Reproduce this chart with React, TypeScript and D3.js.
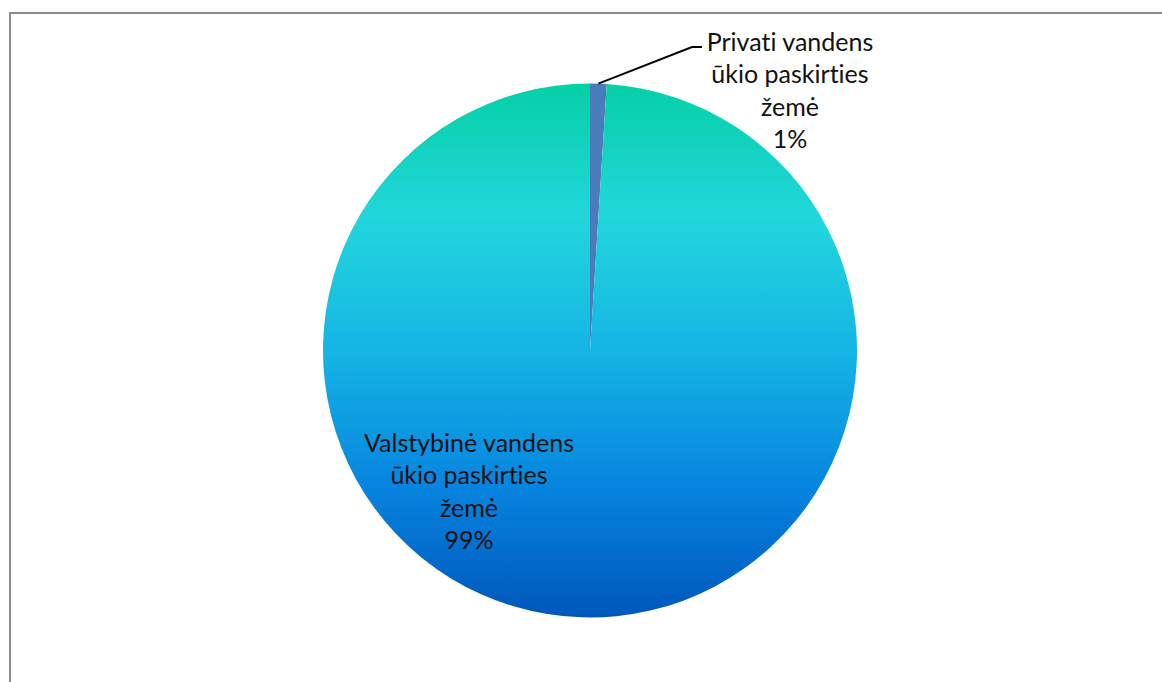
import React from "react";
import * as d3 from "d3";

const categories = [
  "Privati vandens ūkio paskirties žemė",
  "Valstybinė vandens ūkio paskirties žemė",
];
const values = [1, 99];
const labelLines = [
  ["Privati vandens", "ūkio paskirties", "žemė", "1%"],
  ["Valstybinė vandens", "ūkio paskirties", "žemė", "99%"],
];

const W = 1162;
const H = 682;
const cx = 590;
const cy = 350.5;
const R = 267;

export default function App() {
  const pie = d3.pie<number>().sort(null).value((d) => d);
  const arcs = pie(values);
  const arcGen = d3.arc<d3.PieArcDatum<number>>().innerRadius(0).outerRadius(R);
  const fonts = "Lato, 'Open Sans', sans-serif";
  const lineH = 32.5;

  const smallArc = arcs[0];
  const midA = (smallArc.startAngle + smallArc.endAngle) / 2;
  const edge: [number, number] = [Math.sin(midA) * R, -Math.cos(midA) * R];
  const elbow: [number, number] = [102, -303.5];
  const elbowEnd: [number, number] = [112, -303.5];
  const label0: [number, number] = [200, -300];
  const label1: [number, number] = [-121, 101];

  const anchors = [label0, label1];

  return (
    <svg
      width={W}
      height={H}
      style={{ position: "fixed", left: 0, top: 0, background: "#fff" }}
    >
      <defs>
        <linearGradient id="ocean" x1="0" y1="0" x2="0" y2="1">
          <stop offset="0%" stopColor="#05d0a6" />
          <stop offset="25%" stopColor="#22d6dc" />
          <stop offset="50%" stopColor="#15b5e4" />
          <stop offset="75%" stopColor="#0785e0" />
          <stop offset="100%" stopColor="#0057bb" />
        </linearGradient>
      </defs>
      <rect x={10} y={13} width={W + 20} height={H + 20} fill="#fff" stroke="#8c8c8c" strokeWidth={2} />
      <g transform={`translate(${cx},${cy})`}>
        {arcs.map((a, i) => (
          <path
            key={categories[i]}
            d={arcGen(a) || ""}
            fill={i === 0 ? "#4a7cbb" : "url(#ocean)"}
          />
        ))}
        <polyline
          points={[edge, elbow, elbowEnd].map((p) => p.join(",")).join(" ")}
          fill="none"
          stroke="#000"
          strokeWidth={2}
        />
        {labelLines.map((lines, i) => (
          <text
            key={i}
            x={anchors[i][0]}
            y={anchors[i][1]}
            textAnchor="middle"
            fontFamily={fonts}
            fontSize={25}
            fill="#111"
            style={{ fontVariantLigatures: "none" }}
          >
            {lines.map((l, j) => (
              <tspan key={j} x={anchors[i][0]} dy={j === 0 ? 0 : lineH}>
                {l}
              </tspan>
            ))}
          </text>
        ))}
      </g>
    </svg>
  );
}
